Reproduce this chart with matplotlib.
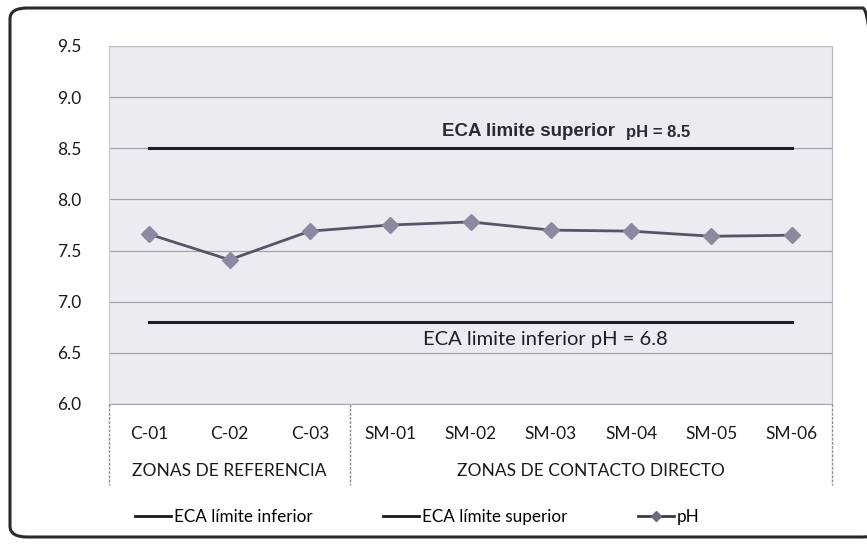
import matplotlib
matplotlib.use("Agg")
import matplotlib.pyplot as plt
from matplotlib.patches import FancyBboxPatch
from matplotlib.lines import Line2D
import matplotlib.transforms as mtransforms

categories = ["C-01", "C-02", "C-03", "SM-01", "SM-02", "SM-03", "SM-04", "SM-05", "SM-06"]
groups = ["ZONAS DE REFERENCIA", "ZONAS DE CONTACTO DIRECTO"]
group_sizes = [3, 6]
ph_values = [7.66, 7.41, 7.69, 7.75, 7.78, 7.70, 7.69, 7.64, 7.65]
eca_inferior = 6.8
eca_superior = 8.5
yticks = [6.0, 6.5, 7.0, 7.5, 8.0, 8.5, 9.0, 9.5]

plt.rcParams['font.family'] = ['Lato', 'DejaVu Sans']

W, H = 867, 545
fig = plt.figure(figsize=(W/100, H/100), dpi=100)
fig.patch.set_facecolor('white')

# outer rounded frame
frame = FancyBboxPatch((10/W, 8/H), (880-10)/W, (537-8)/H,
                       boxstyle="round,pad=0,rounding_size=0.02",
                       transform=fig.transFigure, fill=False,
                       edgecolor='#2a2a2a', linewidth=2.2, zorder=0)
fig.patches.append(frame)

ax = fig.add_axes([109/W, 1-404/H, (832-109)/W, (404-46)/H])
ax.set_facecolor('#ebebf2')
x = list(range(len(categories)))
ax.set_xlim(-0.5, len(categories)-0.5)
ax.set_ylim(6.0, 9.5)
ax.set_yticks(yticks)
ax.set_yticklabels([f"{v:.1f}" for v in yticks], fontsize=12.5, color='#1a1a1a')
ax.tick_params(axis='y', length=0, pad=20)
ax.grid(axis='y', color='#a4a4ae', linewidth=0.9)
ax.set_axisbelow(True)
for s in ['top', 'right']:
    ax.spines[s].set_color('#b8b8c0')
ax.spines['left'].set_color('#c8c8d0')
ax.spines['bottom'].set_color('#a8a8b4')

ax.plot([x[0], x[-1]], [eca_inferior]*2, color='#1e1e2a', lw=2.2, zorder=3)
ax.plot([x[0], x[-1]], [eca_superior]*2, color='#1e1e2a', lw=2.2, zorder=3)
ax.plot(x, ph_values, color='#55556a', lw=2.0, marker='D', markersize=8,
        markerfacecolor='#8a8a9e', markeredgecolor='#8a8a9e', zorder=4)

ax.set_xticks(x)
ax.set_xticklabels(categories, fontsize=12.5, color='#1a1a1a')
ax.tick_params(axis='x', length=0, pad=16)

# group labels and separators
trans = mtransforms.blended_transform_factory(ax.transData, ax.transAxes)
sep_bottom = -(485-404)/(404-46)
start = 0
bounds = [-0.5]
for g, n in zip(groups, group_sizes):
    center = start + (n-1)/2
    ax.text(center, -(471-404)/(404-46), g, transform=trans, ha='center', va='center',
            fontsize=12.5, color='#1a1a1a')
    start += n
    bounds.append(start-0.5)
for b in bounds:
    ax.add_line(Line2D([b, b], [0, sep_bottom], transform=trans, color='#8a8a94',
                       lw=1.0, ls=(0, (2, 1)), clip_on=False))

# annotations
ax.text(3.65, 8.58, "ECA limite superior", fontsize=13.5, fontweight='bold',
        family='Liberation Sans', color='#2a2a33', ha='left', va='bottom')
ax.text(5.93, 8.58, "pH = 8.5", fontsize=12, fontweight='bold',
        family='Liberation Sans', color='#2a2a33', ha='left', va='bottom')
ax.text(3.41, 6.63, "ECA limite inferior pH = 6.8", fontsize=14.5, color='#1e1e28',
        ha='left', va='center')

handles = [Line2D([], [], color='#1a1a1a', lw=2.0),
           Line2D([], [], color='#1a1a1a', lw=2.0),
           Line2D([], [], color='#3a3a48', lw=2.0, marker='D', markersize=5,
                  markerfacecolor='#6a6a7e', markeredgecolor='#6a6a7e')]
fig.legend(handles, ["ECA límite inferior", "ECA límite superior", "pH"],
           loc='center left', bbox_to_anchor=(120/W, 1-517/H), ncol=3, frameon=False,
           fontsize=12.3, handlelength=2.1, handletextpad=0.15, columnspacing=4.15)

fig.savefig("out.png", dpi=100)
